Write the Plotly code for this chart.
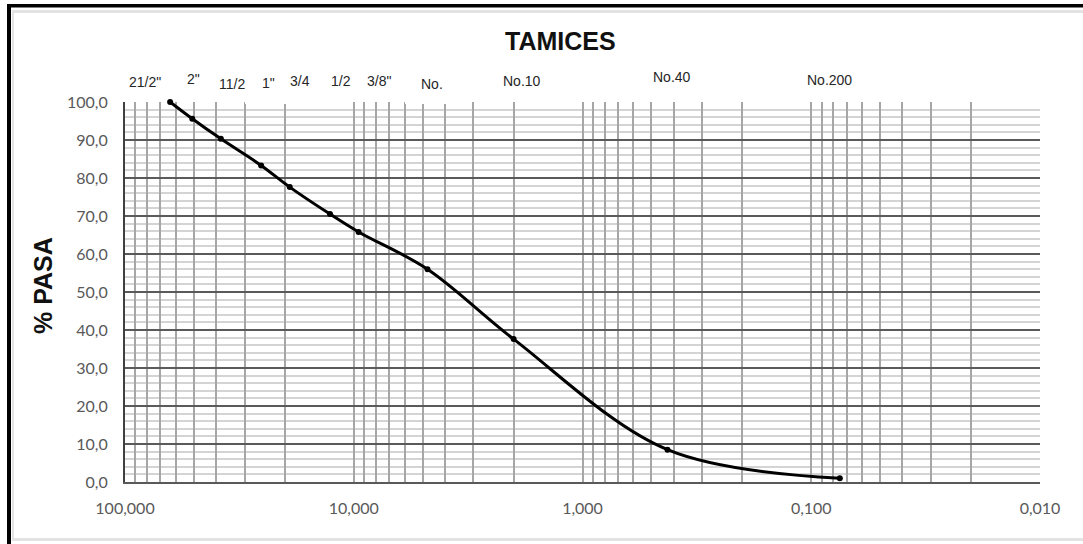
import plotly.graph_objects as go

# Curva granulométrica: abertura de tamiz (mm) vs. porcentaje que pasa
tamices = ['2 1/2"', '2"', '1 1/2"', '1"', '3/4"', '1/2"', '3/8"', 'No.4', 'No.10', 'No.40', 'No.200']
abertura_mm = [63.5, 50.8, 38.1, 25.4, 19.05, 12.7, 9.525, 4.76, 2.0, 0.425, 0.075]
pasa = [100.0, 95.6, 90.3, 83.3, 77.6, 70.5, 65.8, 56.0, 37.6, 8.5, 1.0]

# Rótulos de tamiz escritos sobre el gráfico
rotulos_tamiz = ['21/2"', '2"', '11/2', '1"', '3/4', '1/2', '3/8"', 'No.', 'No.10', 'No.40', 'No.200']
rotulos_px = [(145, 82), (193, 79), (232, 84), (268, 83), (300, 81), (341, 81),
              (379, 81), (432, 84), (522, 81), (672, 77), (829, 80)]

# Eje X logarítmico: décadas rotuladas y líneas de 1..9 por década
decadas = [100, 10, 1, 0.1, 0.01]
decadas_texto = ['100,000', '10,000', '1,000', '0,100', '0,010']

W, H = 1083, 544
L, R, T, B = 125, 43, 102, 62
PW, PH = W - L - R, H - T - B

def px(x):
    return (x - L) / PW

def py(y):
    return (H - B - y) / PH

tickvals, ticktext = [], []
for d in decadas:
    for k in range(1, 10):
        v = d * k
        if v > 100 + 1e-9 or v < 0.01 - 1e-12:
            continue
        tickvals.append(v)
        ticktext.append(decadas_texto[decadas.index(d)] if k == 1 else '')

fig = go.Figure()
fig.add_trace(go.Scatter(
    x=abertura_mm, y=pasa, mode='lines+markers',
    line=dict(color='black', width=3, shape='spline', smoothing=1.0),
    marker=dict(color='black', size=6),
    cliponaxis=False,
    text=tamices, hoverinfo='text+x+y', showlegend=False,
))

tick_font = dict(family='Lato, Carlito, sans-serif', size=16, color='#595959')
label_font = 'Liberation Sans, Arial, sans-serif'

fig.update_layout(
    width=W, height=H,
    margin=dict(l=L, r=R, t=T, b=B, pad=0),
    paper_bgcolor='white', plot_bgcolor='white',
    separators=',.',
    xaxis=dict(
        type='log', range=[2, -2],
        tickmode='array', tickvals=tickvals, ticktext=ticktext,
        showgrid=True, gridcolor='#a6a6a6', gridwidth=1.5,
        showline=True, linecolor='#595959', linewidth=2,
        ticks='', ticklabelstandoff=11, tickfont=tick_font,
        zeroline=False,
    ),
    yaxis=dict(
        range=[0, 100], dtick=10, tick0=0, tickformat='.1f',
        showgrid=True, gridcolor='#5a5a5a', gridwidth=2,
        minor=dict(dtick=2, showgrid=True, gridcolor='#d4d4d4', gridwidth=1.5),
        showline=True, linecolor='#404040', linewidth=2,
        ticks='', ticklabelstandoff=12, tickfont=tick_font,
        zeroline=False,
    ),
)

anns = [
    dict(text='<b>TAMICES</b>', x=px(560), y=py(41), xref='paper', yref='paper',
         showarrow=False, xanchor='center', yanchor='middle',
         font=dict(family=label_font, size=25, color='#111111')),
    dict(text='<b>% PASA</b>', x=px(43), y=py(286), xref='paper', yref='paper',
         showarrow=False, textangle=-90, xanchor='center', yanchor='middle',
         font=dict(family=label_font, size=25, color='#111111')),
]
for t, (xx, yy) in zip(rotulos_tamiz, rotulos_px):
    anns.append(dict(text=t, x=px(xx), y=py(yy), xref='paper', yref='paper',
                     showarrow=False, xanchor='center', yanchor='middle',
                     font=dict(family=label_font, size=14, color='#262626')))
fig.update_layout(annotations=anns)

shapes = [
    # fondo blanco de los rótulos que tapa el borde superior
    dict(type='rect', xref='paper', yref='paper', x0=px(245), x1=px(293), y0=py(104), y1=py(99),
         fillcolor='white', line=dict(width=0), layer='above'),
    dict(type='rect', xref='paper', yref='paper', x0=px(405), x1=px(467), y0=py(104), y1=py(99),
         fillcolor='white', line=dict(width=0), layer='above'),
    # marco del documento
    dict(type='rect', xref='paper', yref='paper', x0=px(7), x1=px(1090), y0=py(7.5), y1=py(4),
         fillcolor='black', line=dict(width=0), layer='above'),
    dict(type='rect', xref='paper', yref='paper', x0=px(7), x1=px(11), y0=py(550), y1=py(4),
         fillcolor='black', line=dict(width=0), layer='above'),
    # borde claro del área del gráfico
    dict(type='rect', xref='paper', yref='paper', x0=px(12), x1=px(14), y0=py(541), y1=py(10),
         fillcolor='#e3e3e3', line=dict(width=0), layer='above'),
    dict(type='rect', xref='paper', yref='paper', x0=px(12), x1=px(1090), y0=py(13), y1=py(10),
         fillcolor='#e3e3e3', line=dict(width=0), layer='above'),
    dict(type='rect', xref='paper', yref='paper', x0=px(12), x1=px(1090), y0=py(541), y1=py(538),
         fillcolor='#e3e3e3', line=dict(width=0), layer='above'),
]
fig.update_layout(shapes=shapes)

fig.write_html('out.html')
